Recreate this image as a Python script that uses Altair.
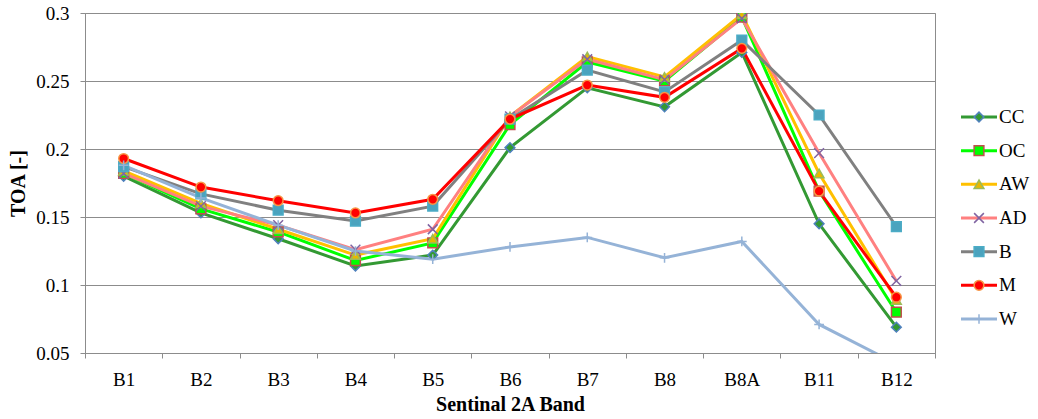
import altair as alt
import pandas as pd

bands = ["B1", "B2", "B3", "B4", "B5", "B6", "B7", "B8", "B8A", "B11", "B12"]
series = ["CC", "OC", "AW", "AD", "B", "M", "W"]

cc = [0.180, 0.153, 0.134, 0.114, 0.122, 0.201, 0.245, 0.231, 0.271, 0.145, 0.069]
oc = [0.182, 0.156, 0.139, 0.118, 0.131, 0.218, 0.264, 0.250, 0.297, 0.169, 0.080]
aw = [0.184, 0.160, 0.141, 0.122, 0.134, 0.224, 0.268, 0.253, 0.299, 0.182, 0.089]
ad = [0.182, 0.158, 0.144, 0.126, 0.141, 0.224, 0.266, 0.251, 0.296, 0.197, 0.103]
b = [0.187, 0.167, 0.155, 0.147, 0.158, 0.222, 0.258, 0.242, 0.280, 0.225, 0.143]
m = [0.193, 0.172, 0.162, 0.153, 0.163, 0.222, 0.247, 0.238, 0.274, 0.169, 0.091]
w = [0.188, 0.164, 0.144, 0.125, 0.119, 0.128, 0.135, 0.120, 0.132, 0.071, 0.042]

values = [cc, oc, aw, ad, b, m, w]

line_colors = ["#339933", "#00FF00", "#FFC000", "#FF8080", "#808080", "#FF0000", "#95B3D7"]
fill_colors = ["#339933", "#00FF00", "#E8B800", "#FF9999", "#4BA3BE", "#FF0000", "#95B3D7"]
stroke_colors = ["#4F81BD", "#C0504D", "#9BBB59", "#8064A2", "#4BACC6", "#F79646", "#95B3D7"]
shapes = [
    "diamond",
    "square",
    "triangle-up",
    "M-1,-1L1,1M-1,1L1,-1",
    "square",
    "circle",
    "M-1,0L1,0M0,-1L0,1",
]

rows = []
for s, vals in zip(series, values):
    for bd, v in zip(bands, vals):
        rows.append({"series": s, "band": bd, "toa": v})
df = pd.DataFrame(rows)

FONT = "Liberation Serif, Times New Roman, serif"
GRID = "#8C8C8C"
FS = 19

color_scale = alt.Scale(domain=series, range=line_colors)
fill_scale = alt.Scale(domain=series, range=fill_colors)
stroke_scale = alt.Scale(domain=series, range=stroke_colors)
shape_scale = alt.Scale(domain=series, range=shapes)

x_enc = alt.X(
    "band:N",
    sort=bands,
    bandPosition=0.5,
    scale=alt.Scale(type="band", paddingInner=0, paddingOuter=0),
    axis=alt.Axis(
        title="Sentinal 2A Band",
        labelAngle=0,
        tickBand="extent",
        tickSize=5,
        tickColor=GRID,
        domainColor=GRID,
        labelPadding=12,
        labelFont=FONT,
        labelFontSize=FS,
        labelColor="#000000",
        titleFont=FONT,
        titleFontSize=20,
        titleFontWeight="bold",
        titleColor="#000000",
        titlePadding=5,
        grid=False,
    ),
)
y_enc = alt.Y(
    "toa:Q",
    scale=alt.Scale(domain=[0.05, 0.3], nice=False, zero=False),
    axis=alt.Axis(
        title="TOA [-]",
        values=[0.05, 0.1, 0.15, 0.2, 0.25, 0.3],
        format="~g",
        tickSize=5,
        tickColor=GRID,
        domainColor=GRID,
        gridColor=GRID,
        labelPadding=11,
        labelFont=FONT,
        labelFontSize=FS,
        labelColor="#000000",
        titleFont=FONT,
        titleFontSize=20,
        titleFontWeight="bold",
        titleColor="#000000",
        titlePadding=7,
    ),
)

base = alt.Chart(df)
lines = base.mark_line(strokeWidth=3, clip=True).encode(
    x=x_enc,
    y=y_enc,
    color=alt.Color("series:N", scale=color_scale, legend=None),
    detail="series:N",
)
points = base.mark_point(filled=False, size=95, strokeWidth=1.5, opacity=1, clip=True).encode(
    x=x_enc,
    y=y_enc,
    fill=alt.Fill("series:N", scale=fill_scale, legend=None),
    stroke=alt.Stroke("series:N", scale=stroke_scale, legend=None),
    shape=alt.Shape("series:N", scale=shape_scale, legend=None),
)
main = alt.layer(lines, points).properties(width=850, height=340)

leg_df = pd.DataFrame({"series": series})
leg_y = alt.Y(
    "series:N", sort=series, scale=alt.Scale(type="point", padding=0, range=[104, 306]), axis=None
)
leg_base = alt.Chart(leg_df)
leg_lines = leg_base.mark_rule(strokeWidth=3).encode(
    x=alt.value(5),
    x2=alt.value(41),
    y=leg_y,
    color=alt.Color("series:N", scale=color_scale, legend=None),
)
leg_points = leg_base.mark_point(filled=False, size=95, strokeWidth=1.5, opacity=1).encode(
    x=alt.value(23),
    y=leg_y,
    fill=alt.Fill("series:N", scale=fill_scale, legend=None),
    stroke=alt.Stroke("series:N", scale=stroke_scale, legend=None),
    shape=alt.Shape("series:N", scale=shape_scale, legend=None),
)
leg_text = leg_base.mark_text(align="left", baseline="middle", font=FONT, fontSize=FS, color="#000000").encode(
    x=alt.value(43),
    y=leg_y,
    text="series:N",
)
legend = alt.layer(leg_lines, leg_points, leg_text).properties(
    width=78, height=340, view=alt.ViewBackground(stroke=None)
)

chart = (
    alt.hconcat(main, legend, spacing=20)
    .resolve_scale(y="independent")
    .properties(padding={"left": 8, "top": 3, "right": 0, "bottom": 0}, background="white")
    .configure_view(stroke=GRID, strokeWidth=1)
)

chart.save("out.html", embed_options={"renderer": "svg", "actions": False})
